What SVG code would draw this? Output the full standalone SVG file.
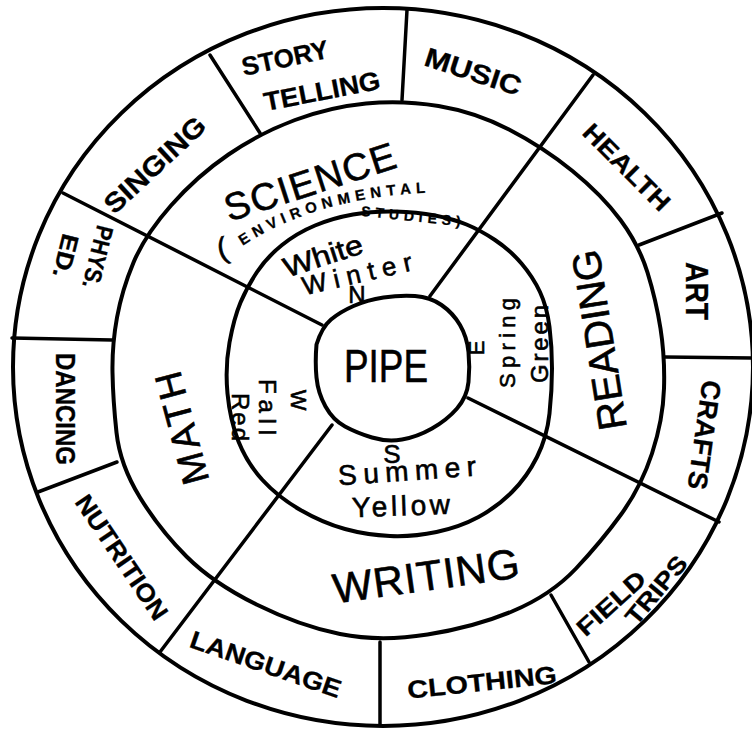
<svg xmlns="http://www.w3.org/2000/svg" width="752" height="730" viewBox="0 0 752 730">
<style>
.ln{fill:none;stroke:#000;stroke-width:4;stroke-linecap:round;stroke-linejoin:round}
.sp{fill:none;stroke:#000;stroke-width:3.5;stroke-linecap:round}
.t{font-family:"Liberation Sans",Arial,sans-serif;fill:#000;text-anchor:middle;dominant-baseline:central;stroke:#000;stroke-width:0.6}
.b{font-weight:bold;stroke-width:0.3}
</style>
<defs>
<path id="envArc" d="M232,246 Q310,190 440,186"/>
</defs>
<rect width="752" height="730" fill="#fff"/>
<g id="rings">
<ellipse class="ln" cx="383" cy="367" rx="370" ry="359"/>
<path class="ln" d="M116.5,432.5 Q113,400 112.5,372.5 Q112,345 117,317.5 Q122,290 133.5,262.5 Q145,235 171,205.5 Q197,176 228.5,154.5 Q260,133 295,120 Q330,107 366,103.5 Q402,100 438.5,106 Q475,112 509,129.5 Q543,147 572.5,171 Q602,195 620.5,220 Q639,245 647.5,272.5 Q656,300 660.5,328.5 Q665,357 664,388.5 Q663,420 652,453.5 Q641,487 621,514.5 Q601,542 576,568.5 Q551,595 513,611 Q475,627 427.5,634.5 Q380,642 340,634 Q300,626 256.5,604.5 Q213,583 186.5,556.5 Q160,530 140,497.5 Q120,465 116.5,432.5 Z"/>
<path class="ln" d="M227.5,393.5 Q225,367 229.5,342.5 Q234,318 240.5,302.5 Q247,287 257,272 Q267,257 282,245 Q297,233 315,225.5 Q333,218 353,214.5 Q373,211 395,211.5 Q417,212 435,215.5 Q453,219 466.5,224.5 Q480,230 495,240 Q510,250 521.5,263.5 Q533,277 540,292 Q547,307 549.5,327 Q552,347 552,368.5 Q552,390 549.5,413.5 Q547,437 537,457 Q527,477 512,492 Q497,507 478.5,517 Q460,527 436.5,532 Q413,537 390,536 Q367,535 345,529 Q323,523 300.5,510 Q278,497 262.5,480 Q247,463 238.5,441.5 Q230,420 227.5,393.5 Z"/>
</g>
<g id="connectors">
<line class="sp" x1="322" y1="325" x2="63" y2="193"/>
<line class="sp" x1="430" y1="296" x2="593" y2="75"/>
<line class="sp" x1="468" y1="398" x2="719" y2="522"/>
<line class="sp" x1="332" y1="425" x2="160" y2="652"/>
<line class="sp" x1="260" y1="133" x2="210" y2="55"/>
<line class="sp" x1="402" y1="100" x2="407" y2="10"/>
<line class="sp" x1="639" y1="245" x2="722" y2="213"/>
<line class="sp" x1="665" y1="357" x2="752" y2="358"/>
<line class="sp" x1="551" y1="595" x2="589" y2="662"/>
<line class="sp" x1="380" y1="642" x2="380" y2="725"/>
<line class="sp" x1="117" y1="462" x2="38" y2="492"/>
<line class="sp" x1="112" y1="340" x2="12" y2="338"/>
</g>
<g id="pipe">
<path class="ln" d="M316.5,377.5 Q315,362 316.5,344.5 Q322,327 331,319.5 Q340,312 353.5,306 Q367,300 383.5,297.5 Q400,295 415,296 Q430,297 441.5,305 Q453,313 460,325 Q467,337 468.5,352 Q470,367 468.5,382 Q467,397 457,408.5 Q447,420 432,428.5 Q417,437 402,439.5 Q387,442 372,437.5 Q357,433 345,426.5 Q333,420 325.5,406.5 Q318,393 316.5,377.5 Z"/>
<text class="t" transform="translate(386,366)" font-size="46" textLength="84" lengthAdjust="spacingAndGlyphs">PIPE</text>
</g>
<g id="winter">
<text class="t" transform="translate(323,256) rotate(-18)" font-size="28" textLength="82" lengthAdjust="spacingAndGlyphs">White</text>
<text class="t" transform="translate(357,274) rotate(-13)" font-size="26" textLength="112">Winter</text>
<text class="t" transform="translate(357,294)" font-size="24">N</text>
</g>
<g id="spring">
<text class="t" transform="translate(476,348) rotate(-90)" font-size="22">E</text>
<text class="t" transform="translate(507,343) rotate(-90)" font-size="22" textLength="90">Spring</text>
<text class="t" transform="translate(539,344) rotate(-90)" font-size="24" textLength="78">Green</text>
</g>
<g id="summer">
<text class="t" transform="translate(392,454)" font-size="26">S</text>
<text class="t" transform="translate(407,471) rotate(-4)" font-size="28" textLength="138">Summer</text>
<text class="t" transform="translate(401,506) rotate(-2)" font-size="28" textLength="98">Yellow</text>
</g>
<g id="fall">
<text class="t" transform="translate(298,400) rotate(90)" font-size="22">W</text>
<text class="t" transform="translate(267,407) rotate(90)" font-size="24" textLength="56">Fall</text>
<text class="t" transform="translate(240,417) rotate(90)" font-size="24" textLength="48">Red</text>
</g>
<g id="science">
<text class="t" transform="translate(310,182) rotate(-18)" font-size="38" textLength="178">SCIENCE</text>
<text class="t" transform="translate(222,248) rotate(-15)" font-size="30">(</text>
<text class="t b" font-size="15" letter-spacing="5.5"><textPath href="#envArc" startOffset="50%">ENVIRONMENTAL</textPath></text>
<text class="t b" transform="translate(411,216) rotate(6)" font-size="14" textLength="100">STUDIES)</text>
</g>
<g id="reading">
<text class="t" transform="translate(599,340) rotate(-99)" font-size="40" textLength="182">READING</text>
</g>
<g id="writing">
<text class="t" transform="translate(426,576) rotate(-8)" font-size="42" textLength="188">WRITING</text>
</g>
<g id="math">
<text class="t" transform="translate(182,428) rotate(-105)" font-size="38" textLength="115">MATH</text>
</g>
<g id="storytelling">
<text class="t b" transform="translate(285,58) rotate(-12)" font-size="26" textLength="88" lengthAdjust="spacingAndGlyphs">STORY</text>
<text class="t b" transform="translate(322,91) rotate(-11)" font-size="26" textLength="118" lengthAdjust="spacingAndGlyphs">TELLING</text>
</g>
<g id="music"><text class="t b" transform="translate(473,72) rotate(18)" font-size="27" textLength="100" lengthAdjust="spacingAndGlyphs">MUSIC</text></g>
<g id="health"><text class="t b" transform="translate(627,167) rotate(45)" font-size="25" textLength="112" lengthAdjust="spacingAndGlyphs">HEALTH</text></g>
<g id="art"><text class="t b" transform="translate(697,291) rotate(90)" font-size="32" textLength="58" lengthAdjust="spacingAndGlyphs">ART</text></g>
<g id="crafts"><text class="t b" transform="translate(704,435) rotate(98)" font-size="27" textLength="110" lengthAdjust="spacingAndGlyphs">CRAFTS</text></g>
<g id="fieldtrips">
<text class="t b" transform="translate(611,603) rotate(-42)" font-size="24" textLength="84" lengthAdjust="spacingAndGlyphs">FIELD</text>
<text class="t b" transform="translate(656,590) rotate(-50)" font-size="24" textLength="82" lengthAdjust="spacingAndGlyphs">TRIPS</text>
</g>
<g id="clothing"><text class="t b" transform="translate(482,682) rotate(-6)" font-size="25" textLength="150" lengthAdjust="spacingAndGlyphs">CLOTHING</text></g>
<g id="language"><text class="t b" transform="translate(266,664) rotate(19)" font-size="25" textLength="158" lengthAdjust="spacingAndGlyphs">LANGUAGE</text></g>
<g id="nutrition"><text class="t b" transform="translate(122,557) rotate(56)" font-size="25" textLength="145" lengthAdjust="spacingAndGlyphs">NUTRITION</text></g>
<g id="dancing"><text class="t b" transform="translate(65,409) rotate(90)" font-size="28" textLength="112" lengthAdjust="spacingAndGlyphs">DANCING</text></g>
<g id="physed">
<text class="t b" transform="translate(98,257) rotate(104)" font-size="24" textLength="64" lengthAdjust="spacingAndGlyphs">PHYS.</text>
<text class="t b" transform="translate(66,256) rotate(104)" font-size="24" textLength="44" lengthAdjust="spacingAndGlyphs">ED.</text>
</g>
<g id="singing"><text class="t b" transform="translate(155,165) rotate(-43)" font-size="27" textLength="128" lengthAdjust="spacingAndGlyphs">SINGING</text></g>
</svg>
